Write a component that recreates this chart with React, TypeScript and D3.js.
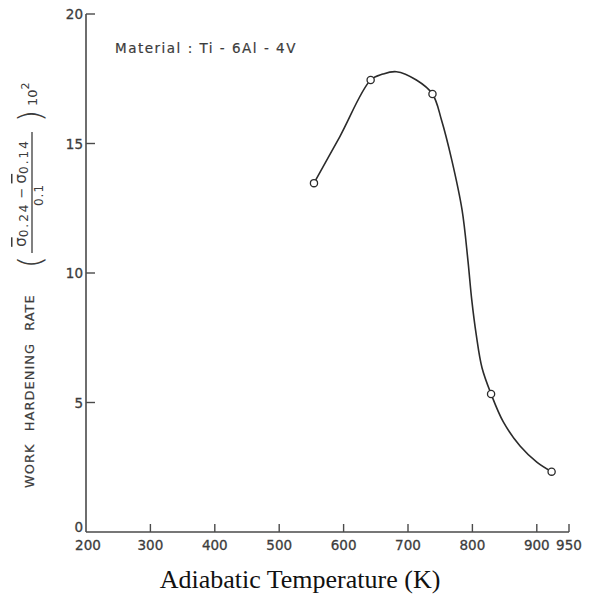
import * as d3 from "d3";

// measured points (open circles)
const pointTemp = [554, 642, 738, 829, 923];
const pointRate = [13.47, 17.45, 16.91, 5.33, 2.33];

// hand-drawn fitted curve
const curveTemp = [554, 594, 642, 661, 682, 713, 738, 752, 768, 784, 793, 799, 806, 815, 829, 848, 874, 900, 923];
const curveRate = [13.47, 15.26, 17.45, 17.68, 17.77, 17.45, 16.91, 15.91, 14.36, 12.43, 10.5, 8.96, 7.61, 6.33, 5.33, 4.25, 3.32, 2.7, 2.33];

const xTickValues = [300, 400, 500, 600, 700, 800, 900, 950];
const xTickLabels = ["300", "400", "500", "600", "700", "800", "900", "950"];
const yTickValues = [0, 5, 10, 15, 20];

const INK = "#2b2b2b";
const AXIS = "#4a4a4a";
const TXT = "#3c3c3c";
const SANS = "'DejaVu Sans', sans-serif";

export default function App() {
  const x = d3.scaleLinear().domain([200, 950]).range([86, 569]);
  const y = d3.scaleLinear().domain([0, 20]).range([532, 14]);

  const line = d3
    .line<number>()
    .x((_, i) => x(curveTemp[i]))
    .y((d) => y(d))
    .curve(d3.curveCatmullRom.alpha(0.5));

  const x0 = x(200);
  const y0 = y(0);

  return (
    <svg
      width={600}
      height={597}
      style={{ position: "absolute", left: 0, top: 0, background: "#fff" }}
    >
      {/* axes */}
      <line x1={x0} x2={x0} y1={y(20)} y2={y0} stroke={AXIS} strokeWidth={1.6} />
      <line x1={x0} x2={x(950)} y1={y0} y2={y0} stroke={AXIS} strokeWidth={1.6} />

      {/* y ticks */}
      {yTickValues.map((v) => (
        <g key={"y" + v}>
          {v > 0 && (
            <line x1={x0} x2={x0 + 9} y1={y(v)} y2={y(v)} stroke={AXIS} strokeWidth={1.4} />
          )}
          <text
            x={x0 - 3}
            y={v === 0 ? y(v) - 5 : y(v)}
            textAnchor="end"
            dominantBaseline="central"
            fontFamily={SANS}
            fontSize={13.5}
            fill={TXT}
            stroke={TXT}
            strokeWidth={0.3}
          >
            {v}
          </text>
        </g>
      ))}

      {/* x ticks */}
      {xTickValues.map((v, i) => (
        <g key={"x" + v}>
          <line x1={x(v)} x2={x(v)} y1={y0} y2={y0 - 8} stroke={AXIS} strokeWidth={1.4} />
          <text
            x={x(v)}
            y={550}
            textAnchor="middle"
            fontFamily={SANS}
            fontSize={13.5}
            fill={TXT}
            stroke={TXT}
            strokeWidth={0.3}
          >
            {xTickLabels[i]}
          </text>
        </g>
      ))}
      <text
        x={x0 + 2}
        y={550}
        textAnchor="middle"
        fontFamily={SANS}
        fontSize={13.5}
        fill={TXT}
        stroke={TXT}
        strokeWidth={0.3}
      >
        200
      </text>

      {/* curve */}
      <path d={line(curveRate) || ""} fill="none" stroke={INK} strokeWidth={1.6} />
      {pointRate.map((r, i) => (
        <circle
          key={"p" + i}
          cx={x(pointTemp[i])}
          cy={y(r)}
          r={3.6}
          fill="#fff"
          stroke={INK}
          strokeWidth={1.3}
        />
      ))}

      {/* annotation */}
      <text
        x={115}
        y={53}
        fontFamily={SANS}
        fontSize={13.5}
        letterSpacing={1.5}
        fill={TXT}
        stroke={TXT}
        strokeWidth={0.2}
      >
        Material : Ti - 6Al - 4V
      </text>

      {/* x axis title */}
      <text
        x={300}
        y={588}
        textAnchor="middle"
        fontFamily="'Liberation Serif', 'Times New Roman', serif"
        fontSize={26}
        fill="#111"
      >
        Adiabatic Temperature (K)
      </text>

      {/* y axis title, rotated */}
      <g transform="rotate(-90)" fill={TXT} fontFamily={SANS}>
        <text x={-488} y={34} fontSize={13} letterSpacing={1} wordSpacing={7} stroke={TXT} strokeWidth={0.2}>
          WORK HARDENING RATE
        </text>
        <text x={-262} y={30} fontSize={32} textAnchor="middle" dominantBaseline="central" fontWeight={300}>
          (
        </text>
        <text x={-193} y={26} textAnchor="middle" fontSize={13}>
          <tspan fontSize={15} textDecoration="overline">σ</tspan>
          <tspan fontSize={12} dy={2} letterSpacing={2}>0.24</tspan>
          <tspan dy={-2}>{"  −  "}</tspan>
          <tspan fontSize={15} textDecoration="overline">σ</tspan>
          <tspan fontSize={12} dy={2} letterSpacing={2}>0.14</tspan>
        </text>
        <line x1={-253} x2={-132} y1={32} y2={32} stroke={TXT} strokeWidth={1.3} />
        <text x={-195} y={43} textAnchor="middle" fontSize={12} letterSpacing={1}>
          0.1
        </text>
        <text x={-116} y={30} fontSize={32} textAnchor="middle" dominantBaseline="central" fontWeight={300}>
          )
        </text>
        <text x={-106} y={37} fontSize={13}>
          10
          <tspan fontSize={11} dy={-8}>2</tspan>
        </text>
      </g>
    </svg>
  );
}
